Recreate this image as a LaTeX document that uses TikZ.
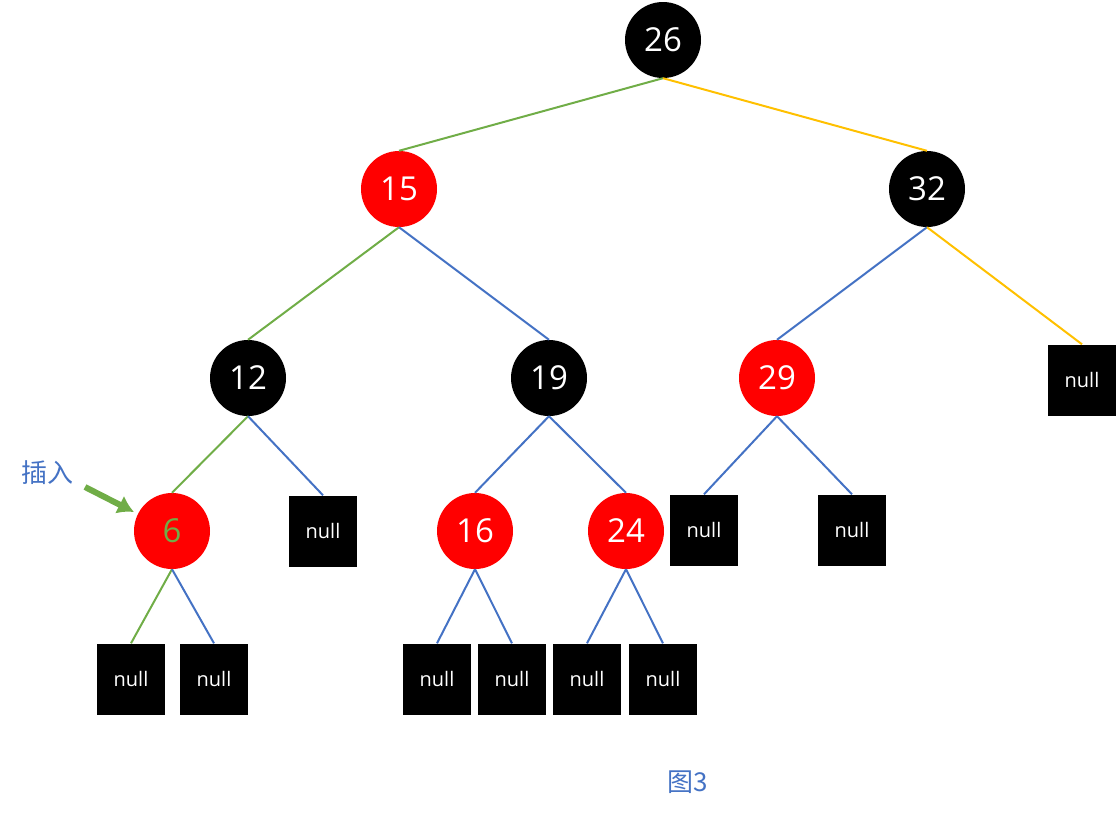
\documentclass[tikz,border=0pt]{standalone}
\usepackage{fontspec}
\usetikzlibrary{arrows.meta}
\setmainfont{Open Sans}
\newfontfamily\cjk{Noto Sans CJK SC}
\begin{document}
\begin{tikzpicture}[x=1pt,y=-1pt,
  rb/.style={circle,fill=#1,minimum size=76pt,inner sep=0pt,text=white,font=\fontsize{33}{33}\selectfont},
  nb/.style={fill=black,minimum width=68pt,minimum height=71pt,inner sep=0pt,text=white,font=\fontsize{20}{20}\selectfont},
  ge/.style={draw={rgb,255:red,112;green,173;blue,71},line width=2pt},
  be/.style={draw={rgb,255:red,68;green,114;blue,196},line width=2pt},
  oe/.style={draw={rgb,255:red,255;green,192;blue,0},line width=2pt}]
\useasboundingbox (0,0) rectangle (1117,819);
\definecolor{myred}{RGB}{255,0,0}
\node[rb=black] (n26) at (663,40) {26};
\node[rb=myred] (n15) at (399,189) {15};
\node[rb=black] (n32) at (927,189) {32};
\node[rb=black] (n12) at (248,378) {12};
\node[rb=black] (n19) at (549,378) {19};
\node[rb=myred] (n29) at (777,378) {29};
\node[nb] (x32) at (1082,380) {null};
\node[rb=myred,text={rgb,255:red,112;green,173;blue,71}] (n6) at (172,531) {6};
\node[nb] (x12) at (323,531) {null};
\node[rb=myred] (n16) at (475,531) {16};
\node[rb=myred] (n24) at (626,531) {24};
\node[nb] (x29a) at (704,530) {null};
\node[nb] (x29b) at (852,530) {null};
\node[nb] (x6a) at (131,679) {null};
\node[nb] (x6b) at (214,679) {null};
\node[nb] (x16a) at (437,679) {null};
\node[nb] (x16b) at (512,679) {null};
\node[nb] (x24a) at (587,679) {null};
\node[nb] (x24b) at (663,679) {null};
\draw[ge] (n26.south) -- (n15.north);
\draw[oe] (n26.south) -- (n32.north);
\draw[ge] (n15.south) -- (n12.north);
\draw[be] (n15.south) -- (n19.north);
\draw[be] (n32.south) -- (n29.north);
\draw[oe] (n32.south) -- (x32.north);
\draw[ge] (n12.south) -- (n6.north);
\draw[be] (n12.south) -- (x12.north);
\draw[be] (n19.south) -- (n16.north);
\draw[be] (n19.south) -- (n24.north);
\draw[be] (n29.south) -- (x29a.north);
\draw[be] (n29.south) -- (x29b.north);
\draw[ge] (n6.south) -- (x6a.north);
\draw[be] (n6.south) -- (x6b.north);
\draw[be] (n16.south) -- (x16a.north);
\draw[be] (n16.south) -- (x16b.north);
\draw[be] (n24.south) -- (x24a.north);
\draw[be] (n24.south) -- (x24b.north);
\node[text={rgb,255:red,68;green,114;blue,196},font=\cjk\fontsize{26}{26}\selectfont] (lab) at (47,473) {插入};
\coordinate (as) at (85,487);
\coordinate (ae) at (134,512);
\draw[draw={rgb,255:red,112;green,173;blue,71},line width=6pt,-{Latex[length=16pt,width=20pt]}] (as) -- (ae);
\node[text={rgb,255:red,68;green,114;blue,196},font=\cjk\fontsize{26}{26}\selectfont] (fig) at (688,782) {图3};
\end{tikzpicture}
\end{document}
